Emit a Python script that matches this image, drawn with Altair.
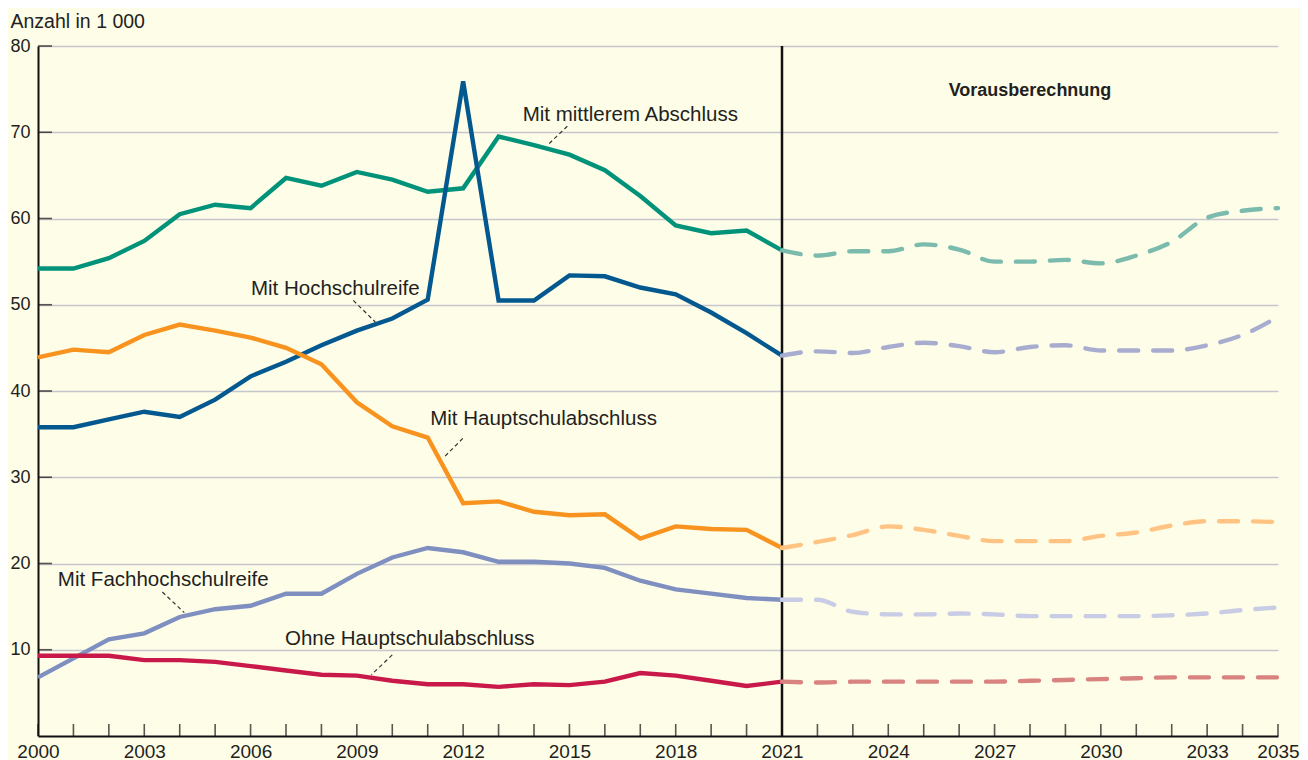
import altair as alt
import pandas as pd

years_hist = list(range(2000, 2022))
years_proj = list(range(2021, 2036))

series_names = [
    "Mit mittlerem Abschluss",
    "Mit Hochschulreife",
    "Mit Hauptschulabschluss",
    "Mit Fachhochschulreife",
    "Ohne Hauptschulabschluss",
]

mittlerem_hist = [54.2, 54.2, 55.4, 57.4, 60.5, 61.6, 61.2, 64.7, 63.8, 65.4, 64.5,
                  63.1, 63.5, 69.5, 68.5, 67.4, 65.6, 62.6, 59.2, 58.3, 58.6, 56.3]
mittlerem_proj = [56.3, 55.7, 56.2, 56.2, 57.0, 56.4, 55.0, 55.0, 55.2, 54.8, 55.7,
                  57.3, 60.1, 60.9, 61.2]

hochschul_hist = [35.8, 35.8, 36.7, 37.6, 37.0, 39.0, 41.7, 43.4, 45.3, 47.0, 48.4,
                  50.6, 75.9, 50.5, 50.5, 53.4, 53.3, 52.0, 51.2, 49.1, 46.7, 44.1]
hochschul_proj = [44.1, 44.6, 44.4, 45.1, 45.6, 45.2, 44.5, 45.1, 45.3, 44.7, 44.7,
                  44.7, 45.3, 46.5, 48.6]

haupt_hist = [43.9, 44.8, 44.5, 46.5, 47.7, 47.0, 46.2, 45.0, 43.1, 38.7, 35.9,
              34.6, 27.0, 27.2, 26.0, 25.6, 25.7, 22.9, 24.3, 24.0, 23.9, 21.8]
haupt_proj = [21.8, 22.5, 23.3, 24.3, 23.9, 23.2, 22.6, 22.6, 22.6, 23.2, 23.6,
              24.4, 24.9, 24.9, 24.8]

fach_hist = [6.8, 9.0, 11.2, 11.9, 13.8, 14.7, 15.1, 16.5, 16.5, 18.8, 20.7,
             21.8, 21.3, 20.2, 20.2, 20.0, 19.5, 18.0, 17.0, 16.5, 16.0, 15.8]
fach_proj = [15.8, 15.8, 14.4, 14.1, 14.1, 14.2, 14.1, 13.9, 13.9, 13.9, 13.9,
             14.0, 14.2, 14.6, 14.9]

ohne_hist = [9.3, 9.3, 9.3, 8.8, 8.8, 8.6, 8.1, 7.6, 7.1, 7.0, 6.4,
             6.0, 6.0, 5.7, 6.0, 5.9, 6.3, 7.3, 7.0, 6.4, 5.8, 6.3]
ohne_proj = [6.3, 6.2, 6.3, 6.3, 6.3, 6.3, 6.3, 6.4, 6.5, 6.6, 6.7,
             6.8, 6.8, 6.8, 6.8]

hist_values = [mittlerem_hist, hochschul_hist, haupt_hist, fach_hist, ohne_hist]
proj_values = [mittlerem_proj, hochschul_proj, haupt_proj, fach_proj, ohne_proj]

solid_colors = ["#00937A", "#03598F", "#F7931E", "#7E8FC0", "#C8194A"]
proj_colors = ["#7ABBAD", "#A8ADD0", "#FFC483", "#C8CCE4", "#D8837F"]

x_label_values = [2000, 2003, 2006, 2009, 2012, 2015, 2018, 2021, 2024, 2027, 2030, 2033, 2035]
y_label_values = [10, 20, 30, 40, 50, 60, 70, 80]
tick_years = list(range(2000, 2036))

# annotation labels (left x in years, centre y in values)
label_texts = series_names
label_x = [2013.68, 2006.01, 2011.07, 2000.56, 2006.97]
label_y = [72.0, 51.8, 36.7, 18.1, 11.2]
leader_x = [2014.94, 2008.90, 2011.99, 2003.51, 2010.00]
leader_y = [70.7, 50.5, 34.5, 16.7, 9.4]
leader_x2 = [2014.38, 2009.52, 2011.43, 2004.13, 2009.41]
leader_y2 = [68.5, 48.0, 32.2, 14.3, 7.1]

# ---- tables ----
rows = []
for name, vals in zip(series_names, hist_values):
    for yr, v in zip(years_hist, vals):
        rows.append({"Jahr": yr, "Wert": v, "Reihe": name})
hist_df = pd.DataFrame(rows)

rows = []
for name, vals in zip(series_names, proj_values):
    for yr, v in zip(years_proj, vals):
        rows.append({"Jahr": yr, "Wert": v, "Reihe": name + " (Vorausberechnung)"})
proj_df = pd.DataFrame(rows)

color_scale = alt.Scale(
    domain=series_names + [n + " (Vorausberechnung)" for n in series_names],
    range=solid_colors + proj_colors,
)

ann_df = pd.DataFrame({"text": label_texts, "x": label_x, "y": label_y})
lead_df = pd.DataFrame({"x": leader_x, "y": leader_y, "x2": leader_x2, "y2": leader_y2})
xt_df = pd.DataFrame({"Jahr": tick_years})
yt_df = pd.DataFrame({"Wert": y_label_values})

FONT = "Liberation Sans"
TXT = "#231F20"

x_scale = alt.Scale(domain=[2000, 2035], nice=False, zero=False)
y_scale = alt.Scale(domain=[0, 80], nice=False)

x_axis = alt.Axis(values=x_label_values, format="d", grid=False, ticks=False,
                  labelPadding=6, labelFlush=False, labelOverlap=False,
                  domainColor="#111111", domainWidth=2, labelFontSize=19,
                  labelColor=TXT, labelFont=FONT, title=None)
y_axis = alt.Axis(values=y_label_values, grid=True, gridColor="#C6C6CF", gridWidth=1.5,
                  ticks=False, labelPadding=8, labelFlush=False,
                  domainColor="#111111", domainWidth=2, labelFontSize=18,
                  labelColor=TXT, labelFont=FONT,
                  title="Anzahl in 1 000", titleAngle=0, titleAlign="left",
                  titleBaseline="middle", titleX=-28, titleY=-25,
                  titleFontSize=19.5, titleFontWeight="normal", titleFont=FONT,
                  titleColor=TXT)

base_x = alt.X("Jahr:Q", scale=x_scale, axis=x_axis)
base_y = alt.Y("Wert:Q", scale=y_scale, axis=y_axis)

rule = alt.Chart(pd.DataFrame({"Jahr": [2021]})).mark_rule(
    color="#111111", strokeWidth=2.5
).encode(x=alt.X("Jahr:Q", scale=x_scale, axis=x_axis), y=alt.datum(0), y2=alt.datum(80))

solid = alt.Chart(hist_df).mark_line(strokeWidth=4.4).encode(
    x=base_x, y=base_y,
    color=alt.Color("Reihe:N", scale=color_scale, legend=None),
)

dashed = alt.Chart(proj_df).mark_line(
    strokeWidth=4.4, strokeDash=[19, 15], strokeCap="round", interpolate="monotone"
).encode(
    x=base_x, y=base_y,
    color=alt.Color("Reihe:N", scale=color_scale, legend=None),
)

xticks = alt.Chart(xt_df).mark_tick(
    orient="vertical", size=12, thickness=1.6, color="#111111", yOffset=-6
).encode(x=alt.X("Jahr:Q", scale=x_scale, axis=x_axis), y=alt.datum(0))

yticks = alt.Chart(yt_df).mark_tick(
    orient="horizontal", size=14, thickness=1.6, color="#111111", xOffset=7
).encode(x=alt.datum(2000), y=alt.Y("Wert:Q", scale=y_scale, axis=y_axis))

leaders = alt.Chart(lead_df).mark_rule(
    color="#333333", strokeWidth=1.2, strokeDash=[4, 3]
).encode(x=alt.X("x:Q", scale=x_scale, axis=x_axis), y=alt.Y("y:Q", scale=y_scale, axis=y_axis),
         x2="x2:Q", y2="y2:Q")

labels = alt.Chart(ann_df).mark_text(
    align="left", baseline="middle", fontSize=20.5, font=FONT, color=TXT
).encode(x=alt.X("x:Q", scale=x_scale, axis=x_axis), y=alt.Y("y:Q", scale=y_scale, axis=y_axis),
         text="text:N")

voraus = alt.Chart(pd.DataFrame({"x": [2028.0], "y": [74.8], "t": ["Vorausberechnung"]})).mark_text(
    align="center", baseline="middle", fontSize=18, fontWeight="bold", font=FONT, color=TXT
).encode(x=alt.X("x:Q", scale=x_scale, axis=x_axis), y=alt.Y("y:Q", scale=y_scale, axis=y_axis),
         text="t:N")

chart = alt.layer(rule, solid, dashed, xticks, yticks, leaders, labels, voraus).properties(
    width=1240, height=690,
    autosize=alt.AutoSizeParams(type="none"),
    padding={"left": 30, "top": 38, "right": 22, "bottom": 24},
    background="#FEFDE8",
).configure_view(stroke=None)

chart.save("out.html", embed_options={"renderer": "svg", "actions": False})
